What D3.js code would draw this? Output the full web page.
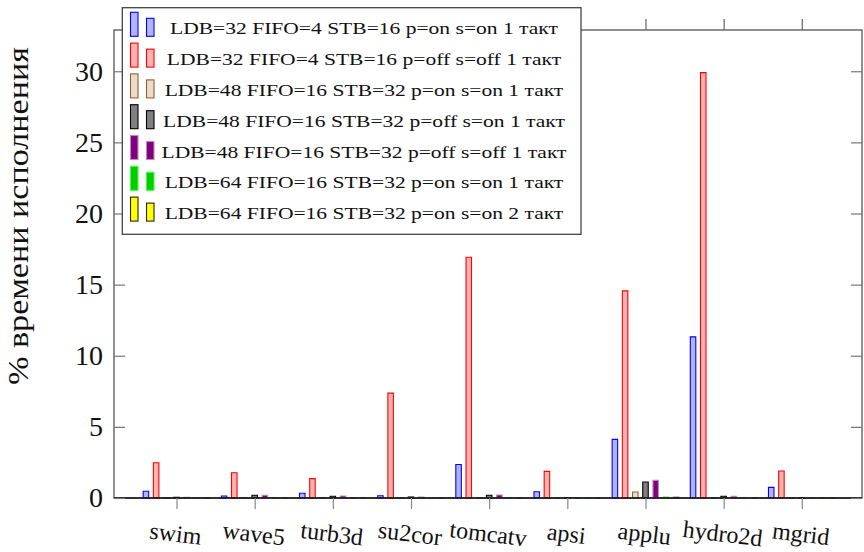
<!DOCTYPE html>
<html>
<head>
<meta charset="utf-8">
<script src="https://cdn.jsdelivr.net/npm/d3@7"></script>
</head>
<body style="margin:0; background:#fff">
<div id="wrapper"></div>
<script>
// categories (benchmarks)
const categories = ["swim", "wave5", "turb3d", "su2cor", "tomcatv", "apsi", "applu", "hydro2d", "mgrid"]

// series names (legend)
const seriesNames = [
  "LDB=32 FIFO=4 STB=16 p=on s=on 1 такт",
  "LDB=32 FIFO=4 STB=16 p=off s=off 1 такт",
  "LDB=48 FIFO=16 STB=32 p=on s=on 1 такт",
  "LDB=48 FIFO=16 STB=32 p=off s=on 1 такт",
  "LDB=48 FIFO=16 STB=32 p=off s=off 1 такт",
  "LDB=64 FIFO=16 STB=32 p=on s=on 1 такт",
  "LDB=64 FIFO=16 STB=32 p=on s=on 2 такт",
]

// % of execution time, one array per series
const ldb32OnOn   = [0.47, 0.14, 0.33, 0.16, 2.36, 0.44, 4.12, 11.33, 0.75]
const ldb32OffOff = [2.48, 1.78, 1.36, 7.37, 16.92, 1.87, 14.56, 29.9, 1.9]
const ldb48OnOn   = [0.03, 0.02, 0.03, 0.02, 0.03, 0.02, 0.42, 0.02, 0.02]
const ldb48OffOn  = [0.05, 0.19, 0.12, 0.07, 0.19, 0.02, 1.12, 0.12, 0.02]
const ldb48OffOff = [0.05, 0.19, 0.14, 0.07, 0.21, 0.02, 1.24, 0.12, 0.02]
const ldb64OnOn1  = [0.03, 0.03, 0.03, 0.03, 0.03, 0.03, 0.07, 0.03, 0.03]
const ldb64OnOn2  = [0, 0, 0, 0, 0, 0, 0.05, 0, 0]

const yTicks = [0, 5, 10, 15, 20, 25, 30]
const yLabel = "% времени исполнения"

const seriesValues = [ldb32OnOn, ldb32OffOff, ldb48OnOn, ldb48OffOn, ldb48OffOff, ldb64OnOn1, ldb64OnOn2]

// fill / stroke per series
const styles = [
  { fill: "#b3b3ff", stroke: "#0000ff" },
  { fill: "#ffb3b3", stroke: "#ff0000" },
  { fill: "#eedcc8", stroke: "#8c6239" },
  { fill: "#808080", stroke: "#000000" },
  { fill: "#800080", stroke: "#b98ab9" },
  { fill: "#00cc00", stroke: "#3dff3d" },
  { fill: "#ffff00", stroke: "#222222" },
]

const fontName = '"Liberation Serif"'

// every text gets its own inline font
function serifText(sel, size) {
  return sel
    .style("font-family", fontName)
    .style("font-size", size + "px")
    .attr("fill", "#111")
}

function drawChart() {
  const dimensions = {
    width: 864,
    height: 552,
    margin: { top: 30, right: 2, bottom: 54, left: 114 },
  }
  dimensions.boundedWidth = dimensions.width - dimensions.margin.left - dimensions.margin.right
  dimensions.boundedHeight = dimensions.height - dimensions.margin.top - dimensions.margin.bottom

  const wrapper = d3.select("#wrapper")
    .append("svg")
    .attr("width", dimensions.width)
    .attr("height", dimensions.height)

  const bounds = wrapper.append("g")
    .attr("transform", `translate(${dimensions.margin.left},${dimensions.margin.top})`)

  const xScale = d3.scaleLinear()
    .domain([-0.8, categories.length - 1 + 0.77])
    .range([0, dimensions.boundedWidth])

  const yScale = d3.scaleLinear()
    .domain([0, 32.9])
    .range([dimensions.boundedHeight, 0])

  const barStep = 10.2
  const barWidth = 5.5

  // bars (paths so zero-height bars still show their outline)
  seriesValues.forEach((values, j) => {
    const offset = (j - (seriesValues.length - 1) / 2) * barStep
    bounds.append("g")
      .selectAll("path")
      .data(values)
      .join("path")
      .attr("d", (d, i) => {
        const x0 = xScale(i) + offset - barWidth / 2
        const x1 = x0 + barWidth
        const y0 = yScale(0)
        const y1 = yScale(d)
        return `M${x0},${y0}V${y1}H${x1}V${y0}Z`
      })
      .attr("fill", styles[j].fill)
      .attr("stroke", styles[j].stroke)
      .attr("stroke-width", 1.1)
  })

  // frame
  bounds.append("rect")
    .attr("width", dimensions.boundedWidth)
    .attr("height", dimensions.boundedHeight)
    .attr("fill", "none")
    .attr("stroke", "#555")
    .attr("stroke-width", 1.3)

  bounds.append("line")
    .attr("x1", 0).attr("x2", dimensions.boundedWidth)
    .attr("y1", yScale(0)).attr("y2", yScale(0))
    .attr("stroke", "#111").attr("stroke-width", 1.3)

  // axes
  const yAxis = bounds.append("g")
    .call(d3.axisLeft(yScale).tickValues(yTicks).tickSize(-11).tickPadding(11))
  yAxis.select(".domain").remove()
  yAxis.selectAll("line").attr("stroke", "#777").attr("stroke-width", 1.2)
  serifText(yAxis.selectAll("text"), 28)

  const yAxisRight = bounds.append("g")
    .attr("transform", `translate(${dimensions.boundedWidth},0)`)
    .call(d3.axisRight(yScale).tickValues(yTicks).tickSize(-11).tickFormat(""))
  yAxisRight.select(".domain").remove()
  yAxisRight.selectAll("line").attr("stroke", "#777").attr("stroke-width", 1.2)

  const catIdx = d3.range(categories.length)

  const xAxis = bounds.append("g")
    .attr("transform", `translate(0,${dimensions.boundedHeight})`)
    .call(d3.axisBottom(xScale).tickValues(catIdx).tickSize(11).tickFormat(""))
  xAxis.select(".domain").remove()
  xAxis.selectAll("line").attr("stroke", "#888").attr("stroke-width", 1.2)

  const xAxisTop = bounds.append("g")
    .call(d3.axisTop(xScale).tickValues(catIdx).tickSize(11).tickFormat(""))
  xAxisTop.select(".domain").remove()
  xAxisTop.selectAll("line").attr("stroke", "#666").attr("stroke-width", 1.2)

  // rotated category labels
  const catLabels = bounds.append("g")
    .selectAll("text")
    .data(categories)
    .join("text")
    .attr("transform", (d, i) => `translate(${xScale(i) - 1},${dimensions.boundedHeight + 36}) rotate(7)`)
    .attr("text-anchor", "middle")
    .attr("dy", "0.32em")
    .text(d => d)
  serifText(catLabels, 24)

  // y label, stretched to the reference length
  const yLab = wrapper.append("text")
    .attr("transform", "translate(28,216) rotate(-90)")
    .attr("text-anchor", "middle")
    .text(yLabel)
  serifText(yLab, 29)
  yLab.attr("textLength", 338).attr("lengthAdjust", "spacingAndGlyphs")

  // legend
  const legend = wrapper.append("g")
  legend.append("rect")
    .attr("x", 122.3).attr("y", 7.7)
    .attr("width", 581 - 122.3).attr("height", 234.3 - 7.7)
    .attr("fill", "#fff")
    .attr("stroke", "#444")
    .attr("stroke-width", 1.3)

  const rowStep = 30.8
  const rows = legend.selectAll("g.row")
    .data(seriesNames)
    .join("g")
    .attr("class", "row")
    .attr("transform", (d, i) => `translate(0,${36.3 + i * rowStep})`)

  rows.append("rect")
    .attr("x", 130.5).attr("y", -24)
    .attr("width", 7.5).attr("height", 24)
    .attr("fill", (d, i) => styles[i].fill)
    .attr("stroke", (d, i) => styles[i].stroke)
    .attr("stroke-width", 1.1)
  rows.append("rect")
    .attr("x", 146.5).attr("y", -18)
    .attr("width", 7.5).attr("height", 18)
    .attr("fill", (d, i) => styles[i].fill)
    .attr("stroke", (d, i) => styles[i].stroke)
    .attr("stroke-width", 1.1)

  const labels = rows.append("text")
    .attr("x", 364)
    .attr("y", -2)
    .attr("text-anchor", "middle")
    .text(d => d)
  serifText(labels, 17)

  // widen legend texts (Computer Modern is wider than Times)
  const widths = labels.nodes().map(n => n.getComputedTextLength())
  const k = 405 / d3.max(widths)
  labels
    .attr("textLength", (d, i) => widths[i] * k)
    .attr("lengthAdjust", "spacingAndGlyphs")
}

drawChart()
</script>
</body>
</html>
